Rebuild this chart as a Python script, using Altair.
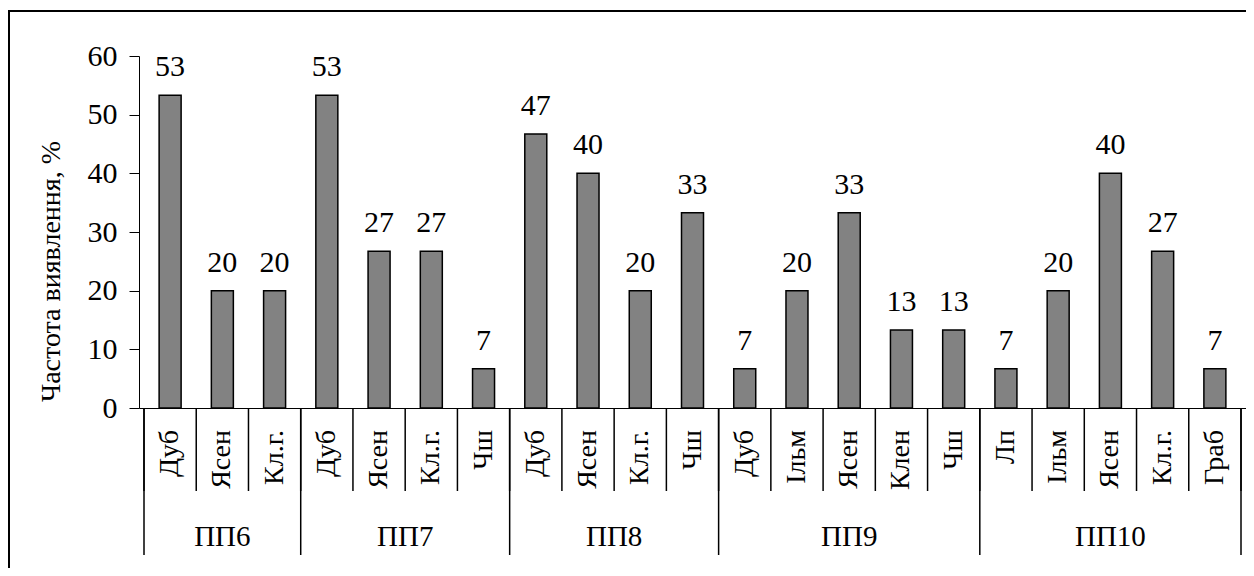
import altair as alt
import pandas as pd

# ---- data ----
groups = ["ПП6", "ПП7", "ПП8", "ПП9", "ПП10"]
group_species = [
    ["Дуб", "Ясен", "Кл.г."],
    ["Дуб", "Ясен", "Кл.г.", "Чш"],
    ["Дуб", "Ясен", "Кл.г.", "Чш"],
    ["Дуб", "Ільм", "Ясен", "Клен", "Чш"],
    ["Лп", "Ільм", "Ясен", "Кл.г.", "Граб"],
]
group_values = [
    [53.3, 20.0, 20.0],
    [53.3, 26.7, 26.7, 6.7],
    [46.7, 40.0, 20.0, 33.3],
    [6.7, 20.0, 33.3, 13.3, 13.3],
    [6.7, 20.0, 40.0, 26.7, 6.7],
]
y_ticks = [0, 10, 20, 30, 40, 50, 60]
y_title = "Частота виявлення, %"

FONT = "Liberation Serif"
W, H = 1107, 352

# ---- tables built from the arrays ----
bar_rows, bound_rows, grp_rows = [], [], []
i = 0
for g, sp, vals in zip(groups, group_species, group_values):
    start = i
    bound_rows.append({"pos": i, "kind": "group"})
    for s, v in zip(sp, vals):
        bar_rows.append({"pos": i + 0.5, "species": s, "group": g, "value": v})
        if i != start:
            bound_rows.append({"pos": i, "kind": "sub"})
        i += 1
    grp_rows.append({"pos": (start + i) / 2, "group": g})
bound_rows.append({"pos": i, "kind": "group"})
n = i

bars_df = pd.DataFrame(bar_rows)
bound_df = pd.DataFrame(bound_rows)
grp_df = pd.DataFrame(grp_rows)

xscale = alt.Scale(domain=[0, n], nice=False, zero=False)
yscale = alt.Scale(domain=[0, 60], nice=False)

x_enc = alt.X("pos:Q", scale=xscale,
              axis=alt.Axis(labels=False, ticks=False, grid=False, title=None,
                            domain=True, domainColor="black", domainWidth=1))
y_enc = alt.Y("value:Q", scale=yscale,
              axis=alt.Axis(values=y_ticks, grid=False, domainColor="black",
                            domainWidth=1, tickColor="black", tickSize=10,
                            labelFont=FONT, labelFontSize=30, labelColor="black",
                            labelPadding=12, title=y_title, titleFont=FONT,
                            titleFontSize=28, titleFontWeight="normal",
                            titleColor="black", titleAngle=270,
                            titleAlign="center", titleBaseline="middle",
                            titleX=-88, titleY=215))

bars = alt.Chart(bars_df).mark_bar(size=22, color="#828282", stroke="black",
                                   strokeWidth=1.5).encode(x=x_enc, y=y_enc)

labels = alt.Chart(bars_df).mark_text(font=FONT, fontSize=30, color="black",
                                      baseline="alphabetic", dy=-19).encode(
    x=alt.X("pos:Q", scale=xscale),
    y=alt.Y("value:Q", scale=yscale),
    text=alt.Text("value:Q", format=".0f"),
)

sub_lines = alt.Chart(bound_df).mark_rule(color="black", strokeWidth=1.5).encode(
    x=alt.X("pos:Q", scale=xscale),
    y=alt.value(H),
    y2=alt.value(H + 83),
)
grp_lines = alt.Chart(bound_df[bound_df["kind"] == "group"]).mark_rule(
    color="black", strokeWidth=1.5).encode(
    x=alt.X("pos:Q", scale=xscale),
    y=alt.value(H),
    y2=alt.value(H + 147),
)

species_text = alt.Chart(bars_df).mark_text(font=FONT, fontSize=28, color="black",
                                            angle=270, align="right",
                                            baseline="middle").encode(
    x=alt.X("pos:Q", scale=xscale),
    y=alt.value(H + 22),
    text="species:N",
)

group_text = alt.Chart(grp_df).mark_text(font=FONT, fontSize=29, color="black",
                                         align="center", baseline="middle").encode(
    x=alt.X("pos:Q", scale=xscale),
    y=alt.value(H + 129),
    text="group:N",
)

border_left = alt.Chart(grp_df.head(1)).mark_rule(color="black", strokeWidth=2).encode(
    x=alt.value(-130), y=alt.value(-45), y2=alt.value(H + 170))
border_top = alt.Chart(grp_df.head(1)).mark_rule(color="black", strokeWidth=2).encode(
    x=alt.value(-131), x2=alt.value(W + 40), y=alt.value(-45))

chart = alt.layer(
    bars, labels, sub_lines, grp_lines, species_text, group_text,
    border_left, border_top,
).properties(
    width=W, height=H,
    autosize=alt.AutoSizeParams(type="none"),
    padding={"left": 131, "top": 48, "right": 0, "bottom": 160},
    background="white",
).configure_view(stroke=None)

chart.save("out.html", embed_options={"renderer": "svg", "actions": False})
